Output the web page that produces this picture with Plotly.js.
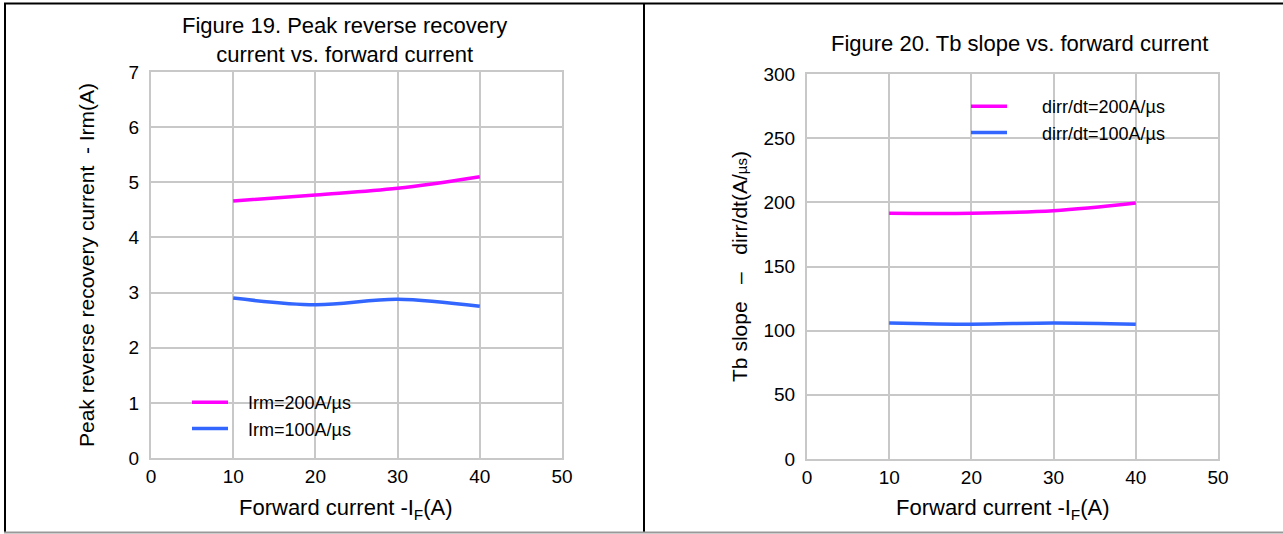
<!DOCTYPE html>
<html>
<head>
<meta charset="utf-8">
<script src="https://cdn.plot.ly/plotly-3.0.1.min.js"></script>
<style>html,body{margin:0;padding:0;background:#fff;}#chart{width:1283px;height:534px;}</style>
</head>
<body>
<div id="chart"></div>
<script>
// Data
const forwardCurrent = [10, 20, 30, 40];
const irm200 = [4.66, 4.77, 4.89, 5.10];
const irm100 = [2.90, 2.78, 2.88, 2.75];
const slope200 = [191.5, 191.5, 193.5, 199.5];
const slope100 = [106, 105, 106, 105];
const xTicks = [0, 10, 20, 30, 40, 50];
const yTicksLeft = [0, 1, 2, 3, 4, 5, 6, 7];
const yTicksRight = [0, 50, 100, 150, 200, 250, 300];
const names = ['Irm=200A/µs', 'Irm=100A/µs', 'dirr/dt=200A/µs', 'dirr/dt=100A/µs'];

const W = 1283, H = 534;
const px = v => v / W;
const py = v => 1 - v / H;
const MAG = '#ff00ff', BLUE = '#3366ff';
const FONT = 'Liberation Sans, Arial, sans-serif';
const sp = n => '\u00a0'.repeat(n);

const traces = [
  {x: forwardCurrent, y: irm200, name: sp(3) + names[0], mode: 'lines', line: {color: MAG, width: 3.5, shape: 'spline'}, xaxis: 'x', yaxis: 'y', legend: 'legend'},
  {x: forwardCurrent, y: irm100, name: sp(3) + names[1], mode: 'lines', line: {color: BLUE, width: 3.5, shape: 'spline'}, xaxis: 'x', yaxis: 'y', legend: 'legend'},
  {x: forwardCurrent, y: slope200, name: sp(6) + names[2], mode: 'lines', line: {color: MAG, width: 3.5, shape: 'spline'}, xaxis: 'x2', yaxis: 'y2', legend: 'legend2'},
  {x: forwardCurrent, y: slope100, name: sp(6) + names[3], mode: 'lines', line: {color: BLUE, width: 3.5, shape: 'spline'}, xaxis: 'x2', yaxis: 'y2', legend: 'legend2'}
];

const axBase = {
  showgrid: true, gridcolor: '#c8c8c8', gridwidth: 2,
  showline: true, linecolor: '#c8c8c8', linewidth: 2, mirror: true,
  zeroline: false, ticks: '', tickfont: {family: FONT, size: 19, color: '#000'},
  fixedrange: true
};
const titleFont = {family: FONT, size: 22, color: '#000'};

const layout = {
  width: W, height: H,
  margin: {l: 0, r: 0, t: 0, b: 0},
  paper_bgcolor: '#fff', plot_bgcolor: '#fff',
  showlegend: true,
  xaxis: Object.assign({}, axBase, {domain: [px(151), px(562)], range: [0, 50], tickvals: xTicks, anchor: 'y'}),
  yaxis: Object.assign({}, axBase, {domain: [py(458), py(72)], range: [0, 7], tickvals: yTicksLeft, anchor: 'x', ticklabelstandoff: 6,
    title: {text: 'Peak reverse recovery current  - Irm(A)', font: {family: FONT, size: 21, color: '#000'}, standoff: 28}}),
  xaxis2: Object.assign({}, axBase, {domain: [px(807), px(1218)], range: [0, 50], tickvals: xTicks, anchor: 'y2'}),
  yaxis2: Object.assign({}, axBase, {domain: [py(459), py(74)], range: [0, 300], tickvals: yTicksRight, anchor: 'x2', ticklabelstandoff: 6,
    title: {text: 'Tb slope' + sp(3) + '–' + sp(3) + 'dirr/dt(A/<span style="font-size:15px">µs</span>)', font: {family: FONT, size: 21, color: '#000'}, standoff: 10}}),
  legend: {x: px(187), y: py(384), xanchor: 'left', yanchor: 'top', bgcolor: 'rgba(0,0,0,0)',
    font: {family: FONT, size: 18, color: '#000'}, itemwidth: 36, tracegroupgap: 0},
  legend2: {x: px(966), y: py(88), xanchor: 'left', yanchor: 'top', bgcolor: 'rgba(0,0,0,0)',
    font: {family: FONT, size: 18, color: '#000'}, itemwidth: 36, tracegroupgap: 0},
  annotations: [
    {text: 'Figure 19. Peak reverse recovery<br>current vs. forward current', xref: 'paper', yref: 'paper', x: px(344), y: py(40),
     xanchor: 'center', yanchor: 'middle', showarrow: false, font: titleFont},
    {text: 'Figure 20. Tb slope vs. forward current', xref: 'paper', yref: 'paper', x: px(1019), y: py(44),
     xanchor: 'center', yanchor: 'middle', showarrow: false, font: titleFont},
    {text: 'Forward current -I<sub>F</sub>(A)', xref: 'paper', yref: 'paper', x: px(346), y: py(509),
     xanchor: 'center', yanchor: 'middle', showarrow: false, font: titleFont},
    {text: 'Forward current -I<sub>F</sub>(A)', xref: 'paper', yref: 'paper', x: px(1003), y: py(509),
     xanchor: 'center', yanchor: 'middle', showarrow: false, font: titleFont}
  ],
  shapes: [
    {type: 'rect', xref: 'paper', yref: 'paper', x0: px(231), x1: px(368), y0: py(440), y1: py(388), fillcolor: '#fff', line: {width: 0}, layer: 'between'},
    {type: 'rect', xref: 'paper', yref: 'paper', x0: px(1015), x1: px(1195), y0: py(151), y1: py(92), fillcolor: '#fff', line: {width: 0}, layer: 'between'},
    {type: 'line', xref: 'paper', yref: 'paper', x0: px(4), x1: 1, y0: py(3.5), y1: py(3.5), line: {color: '#000', width: 2}},
    {type: 'line', xref: 'paper', yref: 'paper', x0: px(5), x1: px(5), y0: py(3), y1: py(533), line: {color: '#000', width: 2}},
    {type: 'line', xref: 'paper', yref: 'paper', x0: px(644), x1: px(644), y0: py(3), y1: py(533), line: {color: '#000', width: 2}},
    {type: 'line', xref: 'paper', yref: 'paper', x0: px(4), x1: 1, y0: py(532.5), y1: py(532.5), line: {color: '#999', width: 2}}
  ]
};

Plotly.newPlot('chart', traces, layout, {displayModeBar: false, staticPlot: true});
</script>
</body>
</html>
